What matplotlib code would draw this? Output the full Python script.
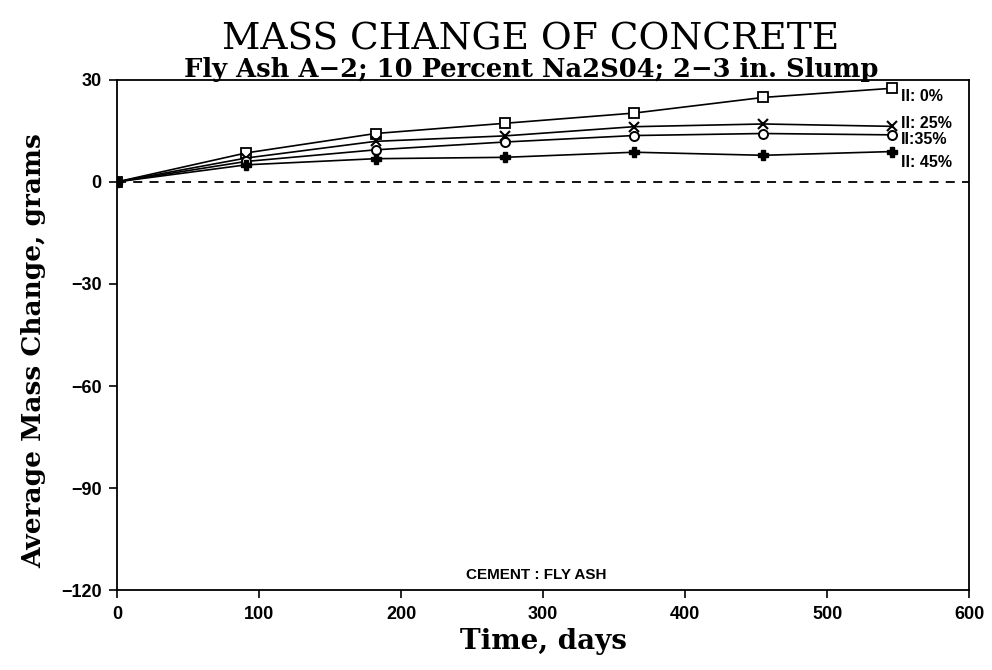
import matplotlib
matplotlib.use('Agg')
import matplotlib.pyplot as plt

# sampling days and average mass change (grams) for each replacement level
days = [0, 91, 182, 273, 364, 455, 546]
mass_0 = [0, 8.5, 14.2, 17.2, 20.2, 24.8, 27.5]
mass_25 = [0, 7.0, 11.9, 13.5, 16.2, 17.0, 16.3]
mass_35 = [0, 6.0, 9.4, 11.7, 13.6, 14.2, 13.8]
mass_45 = [0, 5.0, 6.8, 7.2, 8.7, 7.8, 8.9]

series_labels = ['II: 0%', 'II: 25%', 'II:35%', 'II: 45%']
label_y = [25.0, 17.0, 12.3, 5.8]

xticks = [0, 100, 200, 300, 400, 500, 600]
yticks = [30, 0, -30, -60, -90, -120]

serif = ['DejaVu Serif']
sans = ['Liberation Sans', 'DejaVu Sans']

fig = plt.figure(figsize=(9.92, 6.70), dpi=100)
ax = fig.add_axes([0.118, 0.119, 0.859, 0.762])

ax.set_xlim(0, 600)
ax.set_ylim(-120, 30)

# zero reference line
ax.plot([0, 600], [0, 0], color='black', lw=1.3, linestyle=(0, (5, 4)), zorder=1)

ms = 7.5
ax.plot(days, mass_0, color='black', lw=1.2, marker='s', ms=ms, mfc='white', mec='black', mew=1.3, zorder=3)
ax.plot(days, mass_25, color='black', lw=1.2, marker='x', ms=ms, mec='black', mew=1.5, zorder=3)
ax.plot(days, mass_35, color='black', lw=1.2, marker='o', ms=6.5, mfc='white', mec='black', mew=1.4, zorder=3)
ax.plot(days, mass_45, color='black', lw=1.2, marker='P', ms=ms, mfc='black', mec='black', zorder=3)

for lab, yy in zip(series_labels, label_y):
    ax.text(552, yy, lab, fontsize=11.5, fontweight='bold', family=sans,
            va='center', ha='left', clip_on=False)

ax.text(295, -115.5, 'CEMENT : FLY ASH', fontsize=11, fontweight='bold', family=sans,
        ha='center', va='center')

ax.set_xticks(xticks)
ax.set_yticks(yticks)
ax.set_xticklabels([str(t) for t in xticks], fontsize=13, fontweight='bold', family=sans)
ax.set_yticklabels([str(t).replace('-', '\u2212') for t in yticks], fontsize=13, fontweight='bold', family=sans)
ax.tick_params(direction='out', length=6, width=1.2, pad=5)
for sp in ax.spines.values():
    sp.set_linewidth(1.3)

ax.set_xlabel('Time, days', fontsize=20, fontweight='bold', family=serif, labelpad=4)
ax.set_ylabel('Average Mass Change, grams', fontsize=19, fontweight='bold', family=serif)
ax.yaxis.set_label_coords(-0.083, 0.47)

fig.text(0.535, 0.941, 'MASS CHANGE OF CONCRETE', fontsize=27, family=serif,
         ha='center', va='center')
fig.text(0.535, 0.896, 'Fly Ash A\u22122; 10 Percent Na2S04; 2\u22123 in. Slump', fontsize=18.5,
         fontweight='bold', family=serif, ha='center', va='center')

fig.savefig('out.png', dpi=100)
